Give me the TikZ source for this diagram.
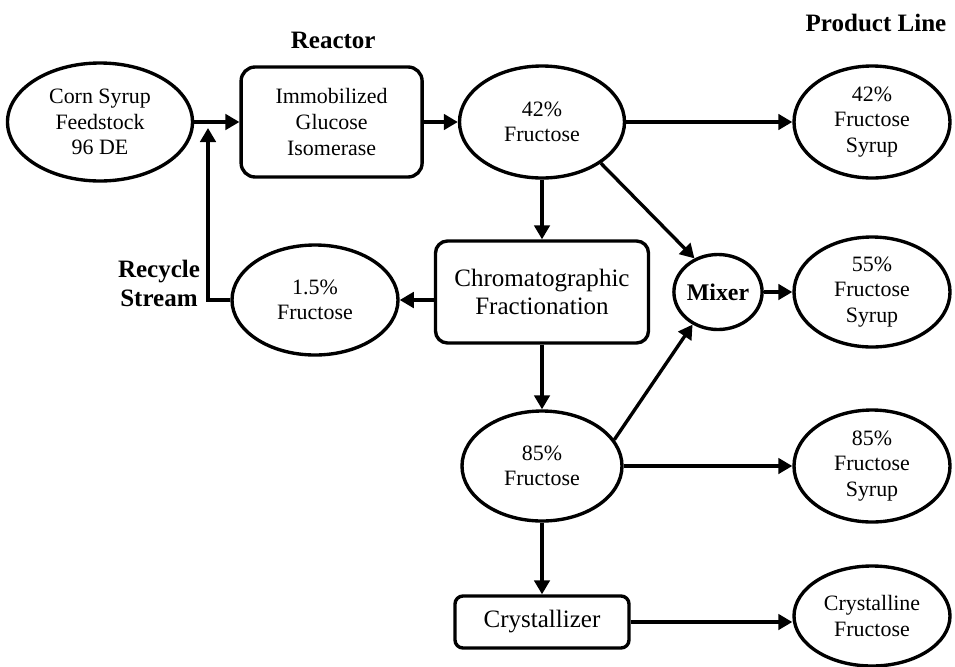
\documentclass[tikz,border=0pt]{standalone}
\usepackage{fontspec}
\setmainfont{Liberation Serif}
\usetikzlibrary{shapes.geometric, arrows.meta, positioning}

\begin{document}
\begin{tikzpicture}[
  unit/.style={rectangle, rounded corners=3mm, draw=black, line width=2.4pt, align=center, inner sep=0pt, font=\fontsize{17.8}{20}\selectfont},
  stream/.style={ellipse, draw=black, line width=2.4pt, align=center, inner sep=0pt, font=\fontsize{15.6}{18}\selectfont},
  arr/.style={-{Triangle[length=10pt, width=11pt]}, line width=2.4pt},
  heading/.style={align=center, font=\fontsize{17.8}{21}\selectfont\bfseries}
]
\useasboundingbox (0,0) rectangle (23.875,-16.65);

\node[heading] (reactorlbl) at (8.33,-1.02) {Reactor};
\node[heading] (productlbl) at (21.9,-0.575) {Product Line};
\node[heading] (recyclelbl) at (3.975,-7.08) {Recycle\\Stream};

\node[stream, minimum width=4.625cm, minimum height=2.95cm] (feed) at (2.5,-3.05) {Corn Syrup\\Feedstock\\96 DE};
\node[unit, rounded corners=3.5mm, minimum width=4.525cm, minimum height=2.75cm, font=\fontsize{15.6}{18.8}\selectfont] (reactor) at (8.29,-3.05) {Immobilized\\Glucose\\Isomerase};
\node[stream, minimum width=4.125cm, minimum height=2.8cm] (f42) at (13.55,-3.05) {42\%\\Fructose};
\node[stream, minimum width=3.9cm, minimum height=2.8cm] (p42) at (21.8,-3.05) {42\%\\Fructose\\Syrup};

\node[unit, minimum width=5.325cm, minimum height=2.55cm] (chrom) at (13.55,-7.3) {Chromatographic\\Fractionation};
\node[stream, minimum width=4.15cm, minimum height=2.75cm] (f15) at (7.875,-7.5) {1.5\%\\Fructose};
\node[stream, minimum width=2.075cm, minimum height=1.875cm, font=\fontsize{17}{20}\selectfont\bfseries] (mixer) at (17.95,-7.3) {Mixer};
\node[stream, minimum width=3.9cm, minimum height=2.75cm] (p55) at (21.8,-7.3) {55\%\\Fructose\\Syrup};

\node[stream, minimum width=4cm, minimum height=2.75cm] (f85) at (13.55,-11.65) {85\%\\Fructose};
\node[stream, minimum width=3.9cm, minimum height=2.8cm] (p85) at (21.8,-11.65) {85\%\\Fructose\\Syrup};

\node[unit, rounded corners=2mm, minimum width=4.35cm, minimum height=1.3cm] (cryst) at (13.55,-15.55) {Crystallizer};
\node[stream, minimum width=3.9cm, minimum height=2.5cm] (pcryst) at (21.8,-15.4) {Crystalline\\Fructose};

\coordinate (join) at (5.2,-3.2);

% main line
\draw[arr] (feed) -- (reactor);
\draw[arr] (reactor) -- (f42);
\draw[arr] (f42) -- (p42);
\draw[arr] (f42) -- (chrom);
\draw[arr] (f42.-35) -- (mixer.125);

% fractionation and recycle
\draw[arr] (chrom.west |- f15.east) -- (f15.east);
\draw[arr] (f15.west) -| (join);
\draw[arr] (chrom) -- (f85);
\draw[arr] (f85.20) -- (mixer.232);
\draw[arr] (mixer) -- (p55);

% products
\draw[arr] (f85) -- (p85);
\draw[arr] (f85) -- (cryst);
\draw[arr] (cryst.east) -- (cryst.east -| pcryst.west);

\end{tikzpicture}
\end{document}
